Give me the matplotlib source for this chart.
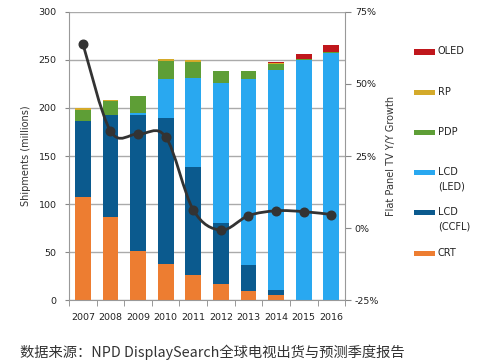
import numpy as np
import matplotlib
matplotlib.use('Agg')
import matplotlib.pyplot as plt
from matplotlib.path import Path
from matplotlib.patches import PathPatch, Rectangle

plt.rcParams['font.family'] = ['DejaVu Sans', 'Noto Sans CJK SC']

years = ['2007', '2008', '2009', '2010', '2011', '2012', '2013', '2014', '2015', '2016']
crt = [107, 87, 51, 38, 26, 17, 9, 5, 0.5, 0]
ccfl = [79, 106, 142, 152, 113, 63, 28, 6, 0, 0]
led = [0, 0, 2, 40, 92, 146, 193, 229, 249, 257]
pdp = [12, 14, 17, 19, 17, 12, 8, 6, 2, 1]
rp = [2, 1.5, 1, 1.5, 1.5, 1, 1, 0.5, 0, 0]
oled = [0, 0, 0, 0, 0, 0, 0, 1.5, 4.5, 8]
growth = [64, 33.7, 32.6, 31.7, 6.3, -0.7, 4.3, 6.0, 5.7, 4.7]

series = [('CRT', crt, '#ED7D31'),
          ('LCD\n(CCFL)', ccfl, '#0B5A8E'),
          ('LCD\n(LED)', led, '#29A8F0'),
          ('PDP', pdp, '#5E9E36'),
          ('RP', rp, '#D4AA2A'),
          ('OLED', oled, '#C0171C')]

W, H = 481, 362
fig = plt.figure(figsize=(W / 100, H / 100), dpi=100)
ax = fig.add_axes([0.1435, 0.171, 0.574, 0.796])
x = np.arange(len(years))
bottom = np.zeros(len(years))
for name, vals, col in series:
    ax.bar(x, vals, 0.57, bottom=bottom, color=col, zorder=2)
    bottom += np.array(vals)

ax.set_xlim(-0.5, len(years) - 0.5)
ax.set_ylim(0, 300)
ax.set_yticks(range(0, 301, 50))
ax.set_xticks(x)
ax.set_xticklabels(years)
ax.set_xticks(np.arange(-0.5, len(years), 1), minor=True)
ax.tick_params(axis='x', which='major', length=0, labelsize=6.8, pad=9, colors='#222222')
ax.tick_params(axis='x', which='minor', length=4, color='#888888', direction='out')
ax.tick_params(axis='y', length=3, color='#888888', labelcolor='#222222', labelsize=6.8, pad=6)
ax.grid(axis='y', color='#AAAAAA', linewidth=1, zorder=0)
for s in ['top', 'right']:
    ax.spines[s].set_visible(False)
for s in ['left', 'bottom']:
    ax.spines[s].set_color('#999999')
ax.set_ylabel('Shipments (millions)', fontsize=7, color='#333333', labelpad=5)

ax2 = ax.twinx()
ax2.set_ylim(-25, 75)
ax2.set_yticks([-25, 0, 25, 50, 75])
ax2.set_yticklabels(['%d%%' % v for v in [-25, 0, 25, 50, 75]])
ax2.tick_params(axis='y', length=4, color='#888888', labelsize=6.8, labelcolor='#222222', pad=3)
for s in ['top', 'left', 'bottom']:
    ax2.spines[s].set_visible(False)
ax2.spines['right'].set_color('#999999')
ax2.set_ylabel('Flat Panel TV Y/Y Growth', fontsize=7, color='#333333', labelpad=5)

# smoothed line (Catmull-Rom style bezier through the data points)
pts = np.column_stack([x, growth]).astype(float)
verts = [pts[0]]
codes = [Path.MOVETO]
n = len(pts)
for i in range(n - 1):
    p0 = pts[max(i - 1, 0)]
    p1 = pts[i]
    p2 = pts[i + 1]
    p3 = pts[min(i + 2, n - 1)]
    verts += [p1 + (p2 - p0) / 6, p2 - (p3 - p1) / 6, p2]
    codes += [Path.CURVE4] * 3
ax2.add_patch(PathPatch(Path(verts, codes), facecolor='none', edgecolor='#333333',
                        linewidth=2, zorder=3))
ax2.plot(x, growth, 'o', color='#333333', markersize=6.2, zorder=4)

# legend drawn by hand: patch lines up with the first text line
for i, (name, vals, col) in enumerate(reversed(series)):
    yc = 52 + 40.2 * i
    fig.add_artist(Rectangle((414 / W, 1 - (yc + 2.5) / H), 21 / W, 5 / H,
                             facecolor=col, edgecolor='none', transform=fig.transFigure))
    fig.text(438 / W, 1 - (yc - 5.5) / H, name, fontsize=7, color='#222222',
             va='top', ha='left', linespacing=1.5)

fig.text(0.042, 0.028, '数据来源：NPD DisplaySearch全球电视出货与预测季度报告',
         fontsize=10.3, color='#333333', va='center',
         family=['Noto Sans CJK SC', 'DejaVu Sans'])

fig.savefig('out.png', dpi=100)
